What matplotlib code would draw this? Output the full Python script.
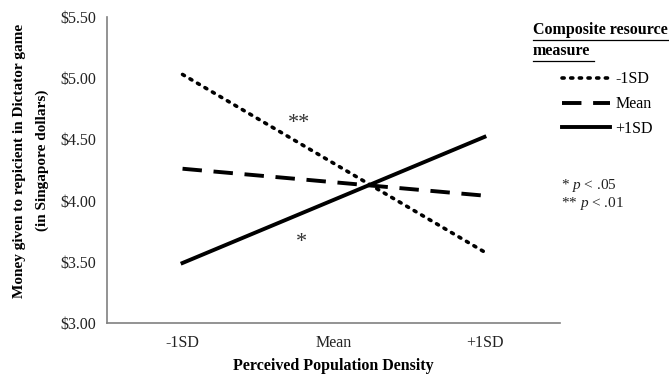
import matplotlib
matplotlib.use("Agg")
import matplotlib.pyplot as plt
from matplotlib.lines import Line2D

plt.rcParams['font.family'] = ['Liberation Serif', 'DejaVu Serif']
plt.rcParams['mathtext.fontset'] = 'custom'
plt.rcParams['mathtext.it'] = 'Liberation Serif:italic'
plt.rcParams['mathtext.rm'] = 'Liberation Serif'

categories = ["-1SD", "Mean", "+1SD"]
low_res = [5.03, 3.58]     # -1SD composite resource
mean_res = [4.26, 4.04]    # Mean
high_res = [3.49, 4.52]    # +1SD
yticks = [3.00, 3.50, 4.00, 4.50, 5.00, 5.50]

fig = plt.figure(figsize=(6.69, 3.76), dpi=100)
ax = fig.add_axes([0.160, 0.141, 0.677, 0.814])

xs = [0, 2]
ax.plot(xs, low_res, color="black", lw=2.6, linestyle=(0, (0.6, 1.8)),
        dash_capstyle="round", label="-1SD")
ax.plot(xs, mean_res, color="black", lw=2.8, linestyle=(0, (5, 3)), label="Mean")
ax.plot(xs, high_res, color="black", lw=2.8, label="+1SD")

ax.text(0.77, 4.63, "**", fontsize=16, ha="center", va="center", color="#333333")
ax.text(0.79, 3.66, "*", fontsize=16, ha="center", va="center", color="#333333")

ax.set_xlim(-0.5, 2.5)
ax.set_ylim(3.0, 5.5)
ax.set_xticks(range(len(categories)))
ax.set_xticklabels(categories)
ax.set_yticks(yticks)
ax.set_yticklabels(["\\$%.2f" % v for v in yticks])
ax.tick_params(length=0, labelsize=11.5, colors="#222222", pad=8)
ax.tick_params(axis="x", pad=9)
for s in ["top", "right"]:
    ax.spines[s].set_visible(False)
for s in ["left", "bottom"]:
    ax.spines[s].set_color("#808080")
    ax.spines[s].set_linewidth(1.2)

ax.set_xlabel("Perceived Population Density", fontsize=11.5, fontweight="bold", labelpad=5)
ax.set_ylabel("Money given to repicient in Dictator game\n(in Singapore dollars)",
              fontsize=11, fontweight="bold", linespacing=1.85)
ax.yaxis.set_label_coords(-0.129, 0.53)

# legend title, underlined
fig.text(533 / 669, 1 - 30 / 376, "Composite resource", fontsize=11.5, fontweight="bold",
         va="center", ha="left")
fig.text(533 / 669, 1 - 51 / 376, "measure", fontsize=11.5, fontweight="bold",
         va="center", ha="left")
fig.add_artist(Line2D([533 / 669, 1.0], [1 - 40 / 376] * 2, color="black", lw=0.9))
fig.add_artist(Line2D([533 / 669, 594 / 669], [1 - 61 / 376] * 2, color="black", lw=0.9))

leg = fig.legend(loc="upper left", bbox_to_anchor=(556 / 669, 1 - 65 / 376),
                 frameon=False, fontsize=11.5, handlelength=3.0, handletextpad=0.3,
                 labelspacing=0.55, borderaxespad=0)

fig.text(561 / 669, 1 - 185 / 376, "* $p$ < .05", fontsize=11, va="center", ha="left",
         color="#222222")
fig.text(561 / 669, 1 - 204 / 376, "** $p$ < .01", fontsize=11, va="center", ha="left",
         color="#222222")

fig.savefig("out.png", dpi=100)
